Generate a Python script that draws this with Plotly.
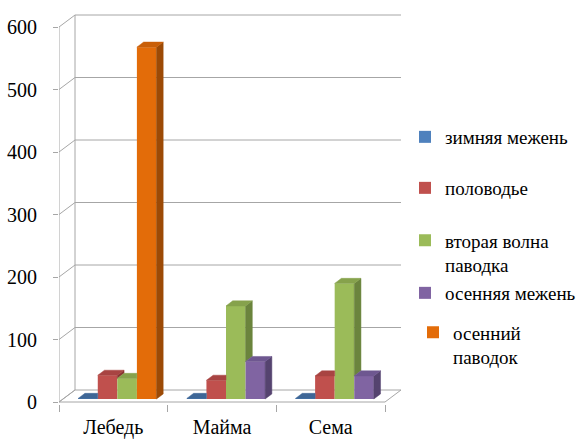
import plotly.graph_objects as go

# ---- data -------------------------------------------------------------
rivers = ["Лебедь", "Майма", "Сема"]
series_names = ["зимняя межень", "половодье", "вторая волна<br>паводка",
                "осенняя межень", "осенний<br>паводок"]
winter_low = [1, 1, 1]
spring_flood = [38, 30, 37]
second_wave = [33, 149, 185]
autumn_low = [None, 60, 37]
autumn_flood = [563, None, None]
y_ticks = [0, 100, 200, 300, 400, 500, 600]

series_values = [winter_low, spring_flood, second_wave, autumn_low, autumn_flood]
front_colors = ["#4F81BD", "#C0504D", "#9BBB59", "#8064A2", "#E36C09"]
top_colors = ["#3E6696", "#A84442", "#86A24C", "#6E5790", "#C95F08"]
side_colors = ["#2C4D75", "#8A3533", "#6B843D", "#55436F", "#9C4A06"]
# column slot inside each cluster (both autumn series share the last slot)
series_slot = [0, 1, 2, 3, 3]

# ---- geometry of the pseudo-3D box (axis units) -------------------------
PX_X = 108.67          # pixels per category
PX_Y = 0.625           # pixels per value unit
WALL_DX = 16 / PX_X    # depth of the box, horizontal part
WALL_DY = 12 / PX_Y    # depth of the box, vertical part
BAR_W = 0.18
BAR_FRONT = 0.25       # depth of the column fronts (fraction of the box)
BAR_DEPTH = 0.42       # depth of the columns (fraction of the box)
BASE = BAR_FRONT * WALL_DY
SHIFT_X = BAR_FRONT * WALL_DX
DDX = BAR_DEPTH * WALL_DX
DDY = BAR_DEPTH * WALL_DY
X_START = -2 * BAR_W + SHIFT_X

X_RANGE = [-0.5, -0.5 + 345 / PX_X]
Y_RANGE = [-2 / PX_Y, 389 / PX_Y]

GRID = "#A6A6A6"
SERIF = "Times New Roman, Liberation Serif, serif"

fig = go.Figure()


def slot_value(cat, slot):
    for s, vals in enumerate(series_values):
        if series_slot[s] == slot and vals[cat] is not None:
            return vals[cat]
    return None


# front faces of the columns
for s, vals in enumerate(series_values):
    fig.add_trace(go.Bar(
        x=list(range(len(rivers))), y=vals, base=BASE,
        offset=X_START + series_slot[s] * BAR_W, width=BAR_W,
        marker=dict(color=front_colors[s], line=dict(width=0)),
        name=series_names[s],
        legend="legend" if s == 0 else f"legend{s + 1}",
        hoverinfo="skip",
    ))

# side and top faces, trimmed where the neighbouring column hides them
for s, vals in enumerate(series_values):
    sx, sy, tx, ty = [], [], [], []
    for i, v in enumerate(vals):
        if v is None:
            continue
        k = series_slot[s]
        x0 = i + X_START + k * BAR_W
        x1 = x0 + BAR_W
        h = BASE + v
        nxt = slot_value(i, k + 1) or 0
        if v > nxt:
            lo = BASE + nxt
            sx += [x1, x1 + DDX, x1 + DDX, x1, x1, None]
            sy += [lo, lo + DDY, h + DDY, h, lo, None]
        if nxt > v:
            tx += [x0, x1, x1, x0 + DDX, x0, None]
            ty += [h, h, h + DDY, h + DDY, h, None]
        else:
            tx += [x0, x1, x1 + DDX, x0 + DDX, x0, None]
            ty += [h, h, h + DDY, h + DDY, h, None]
    for xs, ys, col in ((sx, sy, side_colors[s]), (tx, ty, top_colors[s])):
        if xs:
            fig.add_trace(go.Scatter(
                x=xs, y=ys, mode="lines", fill="toself", fillcolor=col,
                line=dict(width=0.5, color=col), showlegend=False,
                hoverinfo="skip",
            ))

# walls, floor and grid of the box
shapes = []
xl, xr = -0.5, len(rivers) - 0.5
shapes.append(dict(type="path", layer="below",
                   path=f"M{xl},0 L{xr},0 L{xr + WALL_DX},{WALL_DY} "
                        f"L{xl + WALL_DX},{WALL_DY} Z",
                   fillcolor="white", line=dict(color=GRID, width=1)))
for v in y_ticks:
    shapes.append(dict(type="line", layer="below", x0=xl, y0=v,
                       x1=xl + WALL_DX, y1=v + WALL_DY,
                       line=dict(color=GRID, width=1)))
    if v > 0:
        shapes.append(dict(type="line", layer="below", x0=xl + WALL_DX,
                           y0=v + WALL_DY, x1=xr + WALL_DX, y1=v + WALL_DY,
                           line=dict(color=GRID, width=1)))
shapes.append(dict(type="line", layer="below", x0=xl, y0=0, x1=xl,
                   y1=y_ticks[-1], line=dict(color=GRID, width=1)))
shapes.append(dict(type="line", layer="below", x0=xl + WALL_DX, y0=WALL_DY,
                   x1=xl + WALL_DX, y1=y_ticks[-1] + WALL_DY,
                   line=dict(color=GRID, width=1)))

# one legend per series so every entry sits at its own height
legend_rows = [(137, 445), (188, 445), (253, 445), (293, 445), (345, 453)]
layout_legends = {}
for s, (cy, tx0) in enumerate(legend_rows):
    key = "legend" if s == 0 else f"legend{s + 1}"
    layout_legends[key] = dict(
        xref="container", yref="container",
        x=(tx0 - 40) / 580, y=1 - cy / 439,
        xanchor="left", yanchor="middle", valign="top",
        bgcolor="rgba(0,0,0,0)", borderwidth=0,
        font=dict(family=SERIF, size=19, color="#000000"),
    )

fig.update_layout(
    width=580, height=439,
    margin=dict(l=59, r=176, t=13, b=35),
    paper_bgcolor="white", plot_bgcolor="rgba(0,0,0,0)",
    barmode="overlay", showlegend=True,
    font=dict(family=SERIF, color="#000000"),
    shapes=shapes,
    **layout_legends,
)
fig.update_xaxes(
    range=X_RANGE, tickvals=list(range(len(rivers))), ticktext=rivers,
    ticks="", showgrid=False, zeroline=False, showline=False,
    automargin=False,
    tickfont=dict(family=SERIF, size=20, color="#000000"),
    ticklabelstandoff=9,
    minor=dict(tickvals=[xl + i for i in range(len(rivers) + 1)],
               ticks="outside", ticklen=7, tickcolor=GRID, tickwidth=1,
               showgrid=False),
)
fig.update_yaxes(
    range=Y_RANGE, tickvals=y_ticks, ticks="outside", ticklen=5,
    tickcolor=GRID, showgrid=False, zeroline=False, showline=False,
    automargin=False,
    tickfont=dict(family=SERIF, size=20, color="#000000"),
    ticklabelstandoff=12,
)

fig.write_html("out.html")
